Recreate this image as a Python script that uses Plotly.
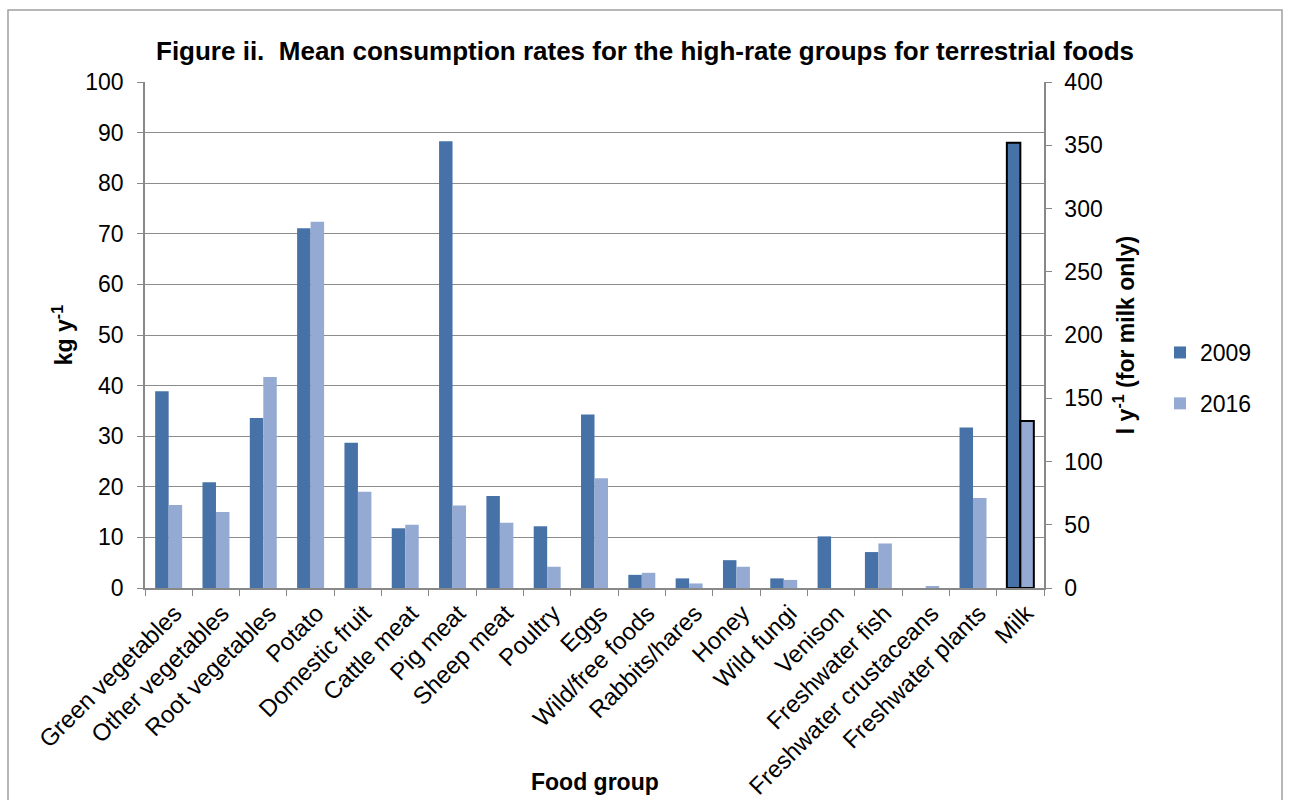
import plotly.graph_objects as go

categories = ["Green vegetables", "Other vegetables", "Root vegetables", "Potato",
              "Domestic fruit", "Cattle meat", "Pig meat", "Sheep meat", "Poultry",
              "Eggs", "Wild/free foods", "Rabbits/hares", "Honey", "Wild fungi",
              "Venison", "Freshwater fish", "Freshwater crustaceans",
              "Freshwater plants", "Milk"]

# kg/y (milk on separate axis, l/y)
values_2009 = [38.9, 20.9, 33.6, 71.1, 28.7, 11.8, 88.3, 18.2, 12.2, 34.3,
               2.6, 1.9, 5.5, 1.9, 10.2, 7.1, 0.0, 31.7, None]
values_2016 = [16.4, 15.0, 41.7, 72.4, 19.0, 12.5, 16.3, 12.9, 4.2, 21.7,
               3.0, 0.9, 4.2, 1.6, 0.0, 8.8, 0.4, 17.8, None]
milk_2009 = [None] * 18 + [352]
milk_2016 = [None] * 18 + [132]

c2009 = "#4672A8"
c2016 = "#95AAD2"
FONT = "Liberation Sans, Arial, sans-serif"

L, R, T, B = 145, 1044, 82, 588
PW, PH = R - L, B - T

fig = go.Figure()
fig.add_trace(go.Bar(x=categories, y=values_2009, name="2009", marker_color=c2009,
                     width=0.285, offset=-0.285, legendgroup="a",
                     marker_line_width=0))
fig.add_trace(go.Bar(x=categories, y=values_2016, name="2016", marker_color=c2016,
                     width=0.285, offset=0.0, legendgroup="b",
                     marker_line_width=0))
fig.add_trace(go.Bar(x=categories, y=milk_2009, name="2009", marker_color=c2009,
                     width=0.285, offset=-0.285, yaxis="y2", showlegend=False,
                     marker_line=dict(color="black", width=2)))
fig.add_trace(go.Bar(x=categories, y=milk_2016, name="2016", marker_color=c2016,
                     width=0.285, offset=0.0, yaxis="y2", showlegend=False,
                     marker_line=dict(color="black", width=2)))

fig.update_layout(
    width=1290, height=800,
    margin=dict(l=L, r=1290 - R, t=T, b=800 - B),
    paper_bgcolor="white", plot_bgcolor="white",
    barmode="overlay",
    font=dict(family=FONT, size=23, color="black"),
    title=dict(text="<b>Figure ii.  Mean consumption rates for the high-rate groups for terrestrial foods</b>",
               x=0.5, xanchor="center", y=0.937, yanchor="middle",
               font=dict(size=26, family=FONT)),
    xaxis=dict(type="category", tickangle=-45, tickfont=dict(size=24),
               showline=True, linecolor="#888888", linewidth=1.5,
               ticks="outside", tickson="boundaries", ticklen=6, tickcolor="#888888",
               ticklabelshift=6,
               showgrid=False, automargin=False),
    yaxis=dict(range=[0, 100], dtick=10, showgrid=True, gridcolor="#8C8C8C", gridwidth=1,
               showline=True, linecolor="#888888", linewidth=1.5,
               ticks="outside", ticklen=6, tickcolor="#888888", ticklabelstandoff=9,
               title=dict(text="<b>kg y<sup>-1</sup></b>", font=dict(size=23), standoff=6),
               zeroline=False, automargin=False),
    yaxis2=dict(range=[0, 400], dtick=50, overlaying="y", side="right", showgrid=False,
                showline=True, linecolor="#888888", linewidth=1.5,
                ticks="outside", ticklen=6, tickcolor="#888888", ticklabelstandoff=8,
                title=dict(text="<b>l y<sup>-1</sup> (for milk only)</b>", font=dict(size=23), standoff=16),
                zeroline=False, automargin=False),
    legend=dict(x=(1160 - L) / PW, xanchor="left", y=0.415, yanchor="middle",
                font=dict(size=23), traceorder="grouped", tracegroupgap=18,
                itemwidth=30),
    showlegend=True,
)

fig.add_annotation(text="<b>Food group</b>", xref="paper", yref="paper",
                   x=(595 - L) / PW, y=(B - 782) / PH, xanchor="center", yanchor="middle",
                   showarrow=False, font=dict(size=23))

fig.add_shape(type="rect", xref="paper", yref="paper",
              x0=(8 - L) / PW, x1=(1282 - L) / PW,
              y0=-0.5, y1=(B - 10) / PH,
              line=dict(color="#A0A0A0", width=1.5), fillcolor="rgba(0,0,0,0)", layer="below")

fig.write_html("out.html")
